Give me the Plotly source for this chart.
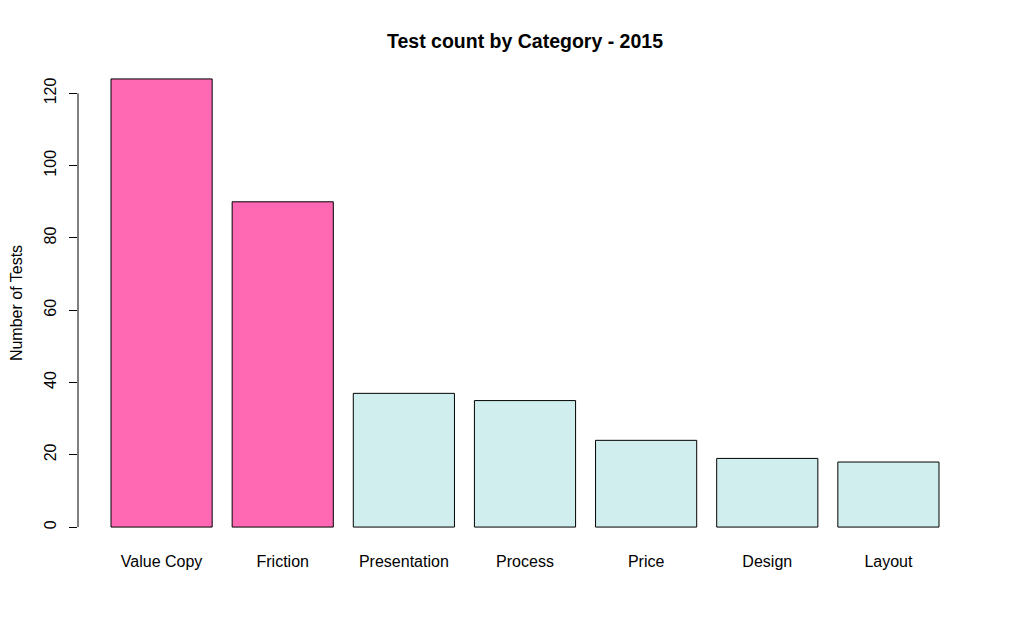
import plotly.graph_objects as go

categories = ["Value Copy", "Friction", "Presentation", "Process", "Price", "Design", "Layout"]
test_counts = [124, 90, 37, 35, 24, 19, 18]
highlighted = [True, True, False, False, False, False, False]
y_ticks = [0, 20, 40, 60, 80, 100, 120]

bar_colors = ["#FF69B4" if h else "#D1EEEE" for h in highlighted]

fig = go.Figure()
fig.add_trace(
    go.Bar(
        x=categories,
        y=test_counts,
        marker=dict(color=bar_colors, line=dict(color="black", width=1)),
        showlegend=False,
    )
)

# R style axis: line only spans first to last tick
fig.add_shape(
    type="line", xref="paper", yref="y", x0=0, x1=0, y0=y_ticks[0], y1=y_ticks[-1],
    line=dict(color="black", width=1),
)

# page body adds 8px margin, so figure is a bit smaller
W, H = 1005, 622

fig.update_layout(
    width=W,
    height=H,
    paper_bgcolor="white",
    plot_bgcolor="white",
    margin=dict(l=70, r=41, t=53, b=85),
    bargap=0.165,
    font=dict(family="Liberation Sans, Arial, sans-serif", size=16, color="black"),
    title=dict(
        text="<b>Test count by Category - 2015</b>",
        x=0.5, xref="paper", xanchor="center",
        y=1 - 33 / H, yanchor="middle",
        font=dict(size=19.5, color="black"),
    ),
    xaxis=dict(
        range=[-0.69, 6.69],
        automargin=False,
        showgrid=False, zeroline=False, showline=False,
        ticks="", ticklabelstandoff=5,
        tickfont=dict(size=16),
    ),
    yaxis=dict(
        range=[-4.96, 128.96],
        automargin=False,
        tickvals=y_ticks,
        showgrid=False, zeroline=False, showline=False,
        ticks="outside", ticklen=8, tickcolor="black", tickwidth=1,
        tickangle=-90, ticklabelstandoff=7,
        tickfont=dict(size=16),
        title=dict(text="Number of Tests", font=dict(size=16), standoff=19),
    ),
)

fig.write_html("out.html")
